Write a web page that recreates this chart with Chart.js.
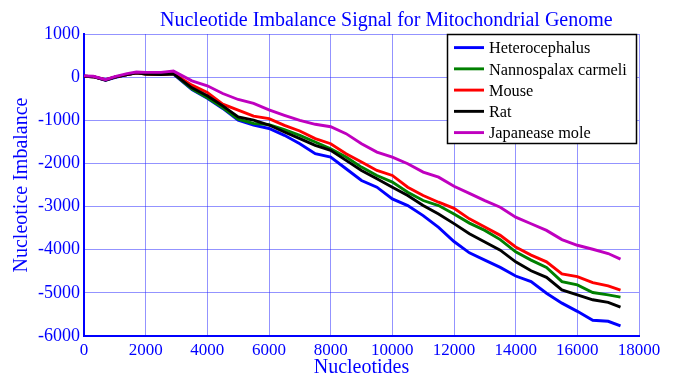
<!DOCTYPE html>
<html>
<head>
<meta charset="utf-8">
<title>Nucleotide Imbalance Signal</title>
<script src="https://cdn.jsdelivr.net/npm/chart.js@4.4.1/dist/chart.umd.min.js"></script>
<style>
  html, body { margin: 0; padding: 0; background: #fff; }
  #wrap { width: 676px; height: 378px; }
</style>
</head>
<body>
<div id="wrap"><canvas id="imbalanceChart" width="676" height="378"></canvas></div>
<script>
// positions along the genome (nucleotides)
var positions = [0, 300, 700, 1000, 1400, 1700, 2000, 2500, 2900, 3500, 4000, 4500, 5000, 5500, 6000,
  6500, 7000, 7500, 8000, 8500, 9000, 9500, 10000, 10500, 11000, 11500, 12000, 12500, 13000,
  13500, 14000, 14500, 15000, 15500, 16000, 16500, 17000, 17400];

var heterocephalus = [20, 10, -70, -10, 60, 100, 80, 70, 70, -285, -490, -725, -997, -1113, -1190,
  -1349, -1543, -1775, -1853, -2124, -2395, -2550, -2822, -2977, -3209, -3481, -3810, -4073, -4241,
  -4410, -4609, -4739, -5008, -5238, -5429, -5636, -5659, -5765];

var nannospalax = [20, 10, -60, 0, 60, 100, 70, 60, 80, -278, -479, -711, -974, -1074, -1100,
  -1217, -1349, -1504, -1659, -1853, -2085, -2279, -2434, -2667, -2860, -2977, -3171, -3383, -3552,
  -3766, -4050, -4241, -4410, -4739, -4816, -4992, -5046, -5100];

var mouse = [20, 10, -60, 0, 60, 100, 70, 60, 85, -185, -355, -626, -765, -904, -960,
  -1116, -1248, -1426, -1543, -1775, -1969, -2163, -2279, -2550, -2744, -2899, -3040, -3284, -3475,
  -3667, -3935, -4126, -4280, -4563, -4625, -4762, -4839, -4935];

var rat = [20, 10, -70, 0, 60, 100, 70, 60, 80, -247, -433, -665, -920, -997, -1110,
  -1271, -1426, -1581, -1698, -1930, -2163, -2357, -2550, -2744, -2977, -3171, -3395, -3628, -3820,
  -4011, -4280, -4487, -4640, -4931, -5046, -5161, -5222, -5330];

var japaneseMole = [30, 20, -60, 10, 80, 120, 110, 110, 140, -85, -201, -379, -518, -610, -760,
  -884, -1000, -1093, -1150, -1310, -1543, -1736, -1853, -2008, -2202, -2318, -2530, -2693, -2862,
  -3015, -3245, -3398, -3552, -3766, -3897, -3989, -4088, -4218];

var seriesNames = ['Heterocephalus', 'Nannospalax carmeli', 'Mouse', 'Rat', 'Japanease mole'];
var seriesValues = [heterocephalus, nannospalax, mouse, rat, japaneseMole];
var seriesColors = ['#0000ff', '#008000', '#ff0000', '#000000', '#bf00bf'];

var xTicksMin = 0, xTicksMax = 18000, xStep = 2000;
var yTicksMin = -6000, yTicksMax = 1000, yStep = 1000;

(function(){
  var SERIF = '"Liberation Serif", "Times New Roman", serif';
  var BLUE = '#0000ff';
  var GRID = 'rgba(40,40,255,0.5)';

  function toPoints(vals){
    return vals.map(function(v, i){ return { x: positions[i], y: v }; });
  }

  var datasets = seriesNames.map(function(name, i){
    return {
      label: name,
      data: toPoints(seriesValues[i]),
      borderColor: seriesColors[i],
      backgroundColor: seriesColors[i],
      borderWidth: 2.9,
      pointRadius: 0,
      tension: 0,
      fill: false,
      order: seriesNames.length - i   // later series drawn on top, like the original
    };
  });

  // title placed over the plot like the original figure
  var titlePlugin = {
    id: 'figTitle',
    afterDraw: function(chart){
      var ctx = chart.ctx;
      ctx.save();
      ctx.fillStyle = BLUE;
      ctx.font = '20px ' + SERIF;
      ctx.textAlign = 'left';
      ctx.textBaseline = 'alphabetic';
      ctx.fillText('Nucleotide Imbalance Signal for Mitochondrial Genome', 160, 26);
      ctx.restore();
    }
  };

  // boxed legend inside the top right of the plot
  var boxLegend = {
    id: 'boxLegend',
    afterDraw: function(chart){
      var ctx = chart.ctx;
      var x0 = 447, y0 = 34, w = 189, h = 109;
      ctx.save();
      ctx.fillStyle = '#fff';
      ctx.fillRect(x0, y0, w, h);
      ctx.strokeStyle = '#000';
      ctx.lineWidth = 1.5;
      ctx.strokeRect(x0 + 0.5, y0 + 0.5, w, h);
      ctx.font = '16.3px ' + SERIF;
      ctx.textAlign = 'left';
      ctx.textBaseline = 'alphabetic';
      chart.data.datasets.forEach(function(ds, i){
        var ly = 47.6 + i * 21.25;
        ctx.strokeStyle = ds.borderColor;
        ctx.lineWidth = 2.9;
        ctx.beginPath();
        ctx.moveTo(454, ly);
        ctx.lineTo(484, ly);
        ctx.stroke();
        ctx.fillStyle = '#000';
        ctx.fillText(ds.label, 489, ly + 5.7);
      });
      ctx.restore();
    }
  };

  function plain(v){ return String(v); }

  function init(){
    var ctx = document.getElementById('imbalanceChart').getContext('2d');
    new Chart(ctx, {
      type: 'line',
      data: { datasets: datasets },
      options: {
        responsive: false,
        animation: false,
        layout: { padding: { top: 34, right: 37, left: 0, bottom: 0 } },
        plugins: { legend: { display: false }, tooltip: { enabled: false }, title: { display: false } },
        scales: {
          x: {
            type: 'linear',
            min: xTicksMin, max: xTicksMax,
            afterFit: function(s){ s.height = 42; },
            ticks: { stepSize: xStep, color: BLUE, font: { family: SERIF, size: 17 }, padding: 4, callback: plain, maxRotation: 0 },
            grid: { color: GRID, lineWidth: 1, drawTicks: false },
            border: { display: true, color: BLUE, width: 2 },
            title: { display: true, text: 'Nucleotides', color: BLUE, font: { family: SERIF, size: 20, lineHeight: 1 }, padding: { top: 0, bottom: 0 } }
          },
          y: {
            type: 'linear',
            min: yTicksMin, max: yTicksMax,
            afterFit: function(s){ s.width = 84; },
            ticks: { stepSize: yStep, color: BLUE, font: { family: SERIF, size: 18 }, padding: 4, callback: plain },
            grid: { color: GRID, lineWidth: 1, drawTicks: false },
            border: { display: true, color: BLUE, width: 2 },
            title: { display: true, text: 'Nucleotice Imbalance', color: BLUE, font: { family: SERIF, size: 20, lineHeight: 1 }, padding: { top: 12, bottom: 0 } }
          }
        }
      },
      plugins: [titlePlugin, boxLegend]
    });
  }

  if (document.readyState === 'loading') document.addEventListener('DOMContentLoaded', init); else init();
})();
</script>
</body>
</html>
